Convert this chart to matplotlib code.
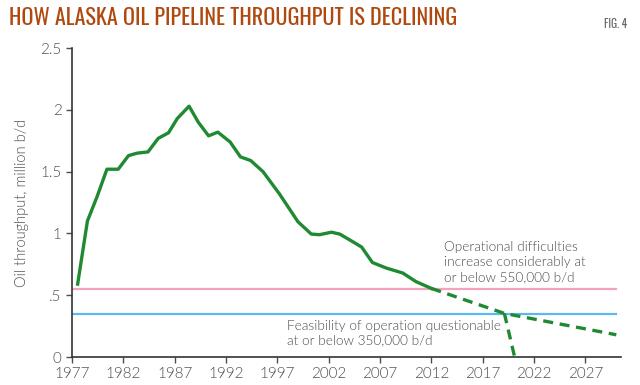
import matplotlib
matplotlib.use("Agg")
import matplotlib.pyplot as plt

# historical throughput (million b/d), x read as decimal years from the chart
hist_x = [1977.55, 1978.5, 1979.45, 1980.4, 1981.5, 1982.5, 1983.35, 1984.4, 1985.4,
          1986.4, 1987.25, 1988.4, 1989.3, 1990.3, 1991.2, 1992.4, 1993.4, 1994.4,
          1995.6, 1997.2, 1999.0, 2000.3, 2001.1, 2002.26, 2003.07, 2004.2, 2005.2,
          2006.25, 2007.6, 2009.2, 2010.5, 2012.0]
hist_y = [0.59, 1.10, 1.30, 1.52, 1.52, 1.63, 1.65, 1.66, 1.77,
          1.815, 1.93, 2.03, 1.90, 1.79, 1.82, 1.74, 1.62, 1.59,
          1.50, 1.32, 1.095, 0.995, 0.99, 1.01, 0.995, 0.94, 0.89,
          0.765, 0.72, 0.68, 0.61, 0.555]

# projections
proj_x = [2012.0, 2019.1, 2030.0]
proj_y = [0.555, 0.353, 0.18]
shut_x = [2019.1, 2020.1]
shut_y = [0.353, 0.0]

limit_hi = 0.55
limit_lo = 0.35

x_ticks = [1977, 1982, 1987, 1992, 1997, 2002, 2007, 2012, 2017, 2022, 2027]
y_ticks = [0, 0.5, 1, 1.5, 2, 2.5]
y_labels = ["0", ".5", "1", "1.5", "2", "2.5"]

green = "#1f8a32"
gray = "#4d4d4d"
narrow = ["Oswald", "Antonio", "Roboto Condensed", "DejaVu Sans"]
plt.rcParams['font.family'] = ['Lato', 'DejaVu Sans']

fig = plt.figure(figsize=(6.4, 3.85), dpi=100)
ax = fig.add_axes([0.1125, 0.0727, 0.8585, 0.8023])

ax.plot([1977, 2030], [limit_hi, limit_hi], color="#f5a3bb", lw=1.6)
ax.plot([1977, 2030], [limit_lo, limit_lo], color="#5cb9ef", lw=1.6)

ax.plot(hist_x, hist_y, color=green, lw=2.4, solid_joinstyle="round")
ax.plot(proj_x, proj_y, color=green, lw=2.4, ls=(0, (3, 2)))
ax.plot(shut_x, shut_y, color=green, lw=2.4, ls=(0, (3, 2)))

ax.set_xlim(1977, 2030.5)
ax.set_ylim(0, 2.5)
ax.set_xticks(x_ticks)
ax.set_yticks(y_ticks)
ax.set_yticklabels(y_labels)
ax.tick_params(colors=gray, labelsize=11, length=4, width=1)
for lab in ax.get_xticklabels() + ax.get_yticklabels():
    lab.set_fontweight(300)
for s in ["top", "right"]:
    ax.spines[s].set_visible(False)
for s in ["left", "bottom"]:
    ax.spines[s].set_color("#333333")
    ax.spines[s].set_linewidth(1.2)

ax.set_ylabel("Oil throughput, million b/d", color=gray, fontsize=10.5, labelpad=8,
              fontweight=300)

ax.text(2013.25, 0.60, "Operational difficulties\nincrease considerably at\nor below 550,000 b/d",
        color=gray, fontsize=9.8, linespacing=1.3, va="bottom", ha="left", fontweight=300)
ax.text(1997.9, 0.30, "Feasibility of operation questionable\nat or below 350,000 b/d",
        color=gray, fontsize=9.8, linespacing=1.2, va="top", ha="left", fontweight=300)

fig.text(0.014, 0.953, "HOW ALASKA OIL PIPELINE THROUGHPUT IS DECLINING",
         color="#b0490f", fontsize=16, va="center", fontweight="bold", family=narrow)
fig.text(0.961, 0.938, "FIG. 4", color="#666666", fontsize=8, va="center", ha="center",
         family=narrow)

fig.savefig("out.png", dpi=100)
